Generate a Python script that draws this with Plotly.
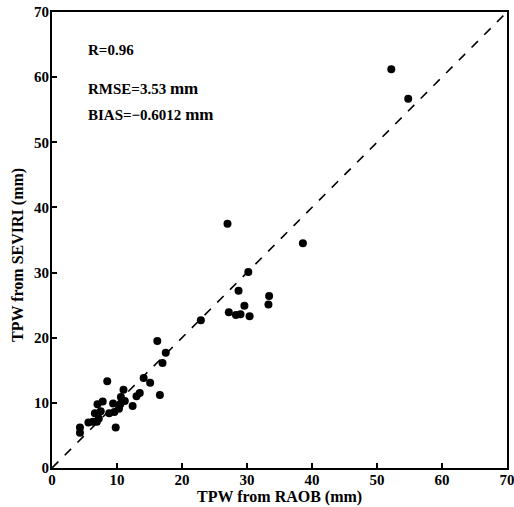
import plotly.graph_objects as go

raob = [4.3, 4.3, 5.6, 6.3, 6.9, 7.2, 6.6, 7.5, 7.0, 7.8, 8.5, 8.8, 9.4, 9.6, 9.8,
        10.3, 10.5, 10.6, 11.0, 11.2, 12.4, 13.0, 13.5, 14.1, 15.1, 16.6, 17.0, 17.5,
        16.2, 22.9, 27.0, 27.2, 28.3, 29.0, 28.7, 29.6, 30.4, 30.2, 33.4, 33.3, 38.6,
        52.2, 54.8]
seviri = [5.4, 6.2, 7.0, 7.1, 7.1, 7.6, 8.4, 8.7, 9.8, 10.2, 13.3, 8.4, 9.9, 8.6, 6.2,
          9.1, 9.8, 10.9, 12.0, 10.3, 9.5, 11.0, 11.5, 13.8, 13.1, 11.2, 16.1, 17.7,
          19.5, 22.7, 37.5, 23.9, 23.5, 23.6, 27.2, 24.9, 23.3, 30.1, 26.4, 25.1, 34.5,
          61.2, 56.7]
ticks = [0, 10, 20, 30, 40, 50, 60, 70]
one_to_one = [0, 70]
stats = ["R=0.96", "RMSE=3.53 <span style='font-size:17px'>mm</span>",
         "BIAS=\u22120.6012 <span style='font-size:17px'>mm</span>"]
stat_y = [64.2, 58.3, 54.2]

font = "Liberation Serif"
fig = go.Figure()
fig.add_trace(go.Scatter(x=one_to_one, y=one_to_one, mode="lines",
                         line=dict(color="black", width=1.6, dash="dash"),
                         hoverinfo="skip", showlegend=False))
fig.add_trace(go.Scatter(x=raob, y=seviri, mode="markers",
                         marker=dict(color="black", size=8),
                         showlegend=False))
for txt, yy in zip(stats, stat_y):
    fig.add_annotation(x=5.3, y=yy, text="<b>" + txt + "</b>", showarrow=False,
                       xanchor="left", yanchor="middle",
                       font=dict(family=font, size=15, color="black"))

axis_common = dict(range=[0, 70], tickvals=ticks, ticks="inside", ticklen=5,
                   tickwidth=1.5, tickcolor="black", showline=True, linecolor="black",
                   linewidth=2, mirror=True, showgrid=False, zeroline=False,
                   automargin=False, ticklabeloverflow="allow",
                   tickfont=dict(family=font, size=15, color="black"))
fig.update_xaxes(**axis_common, ticktext=["<b>%d</b>" % t for t in ticks], ticklabelstandoff=-3)
fig.update_yaxes(**axis_common, ticktext=["<b>%d</b>" % t for t in ticks], ticklabelstandoff=-2)

fig.add_annotation(x=0.499, y=-0.064, xref="paper", yref="paper", showarrow=False,
                   text="<b>TPW from RAOB (mm)</b>", xanchor="center", yanchor="middle",
                   font=dict(family=font, size=16, color="black"))
fig.add_annotation(x=-0.075, y=0.467, xref="paper", yref="paper", showarrow=False,
                   text="<b>TPW from SEVIRI (mm)</b>", textangle=-90,
                   xanchor="center", yanchor="middle",
                   font=dict(family=font, size=16, color="black"))
fig.update_layout(width=514, height=507, margin=dict(l=52, r=7, t=12, b=39),
                  plot_bgcolor="white", paper_bgcolor="white")
fig.write_html("out.html", config={"displayModeBar": False},
               post_script="document.body.style.margin='0';document.body.style.overflow='hidden';")
